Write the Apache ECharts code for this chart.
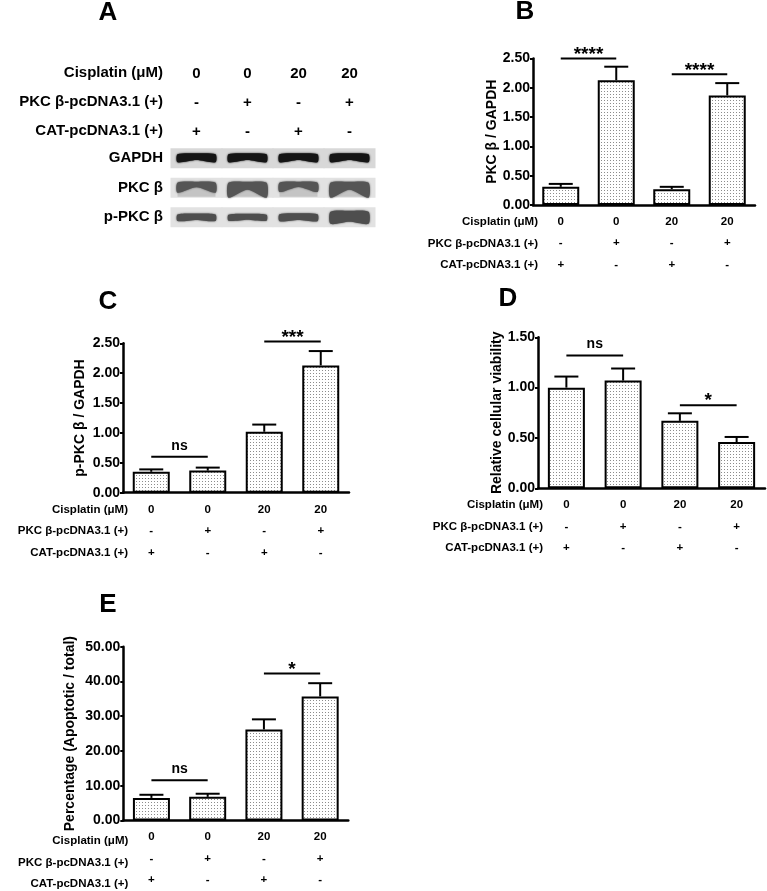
<!DOCTYPE html>
<html>
<head>
<meta charset="utf-8">
<script src="https://cdn.jsdelivr.net/npm/echarts@6/dist/echarts.min.js"></script>
<style>
  html, body { margin: 0; background: #fff; }
  #chart { width: 767px; height: 891px; }
</style>
</head>
<body>
<div id="chart"></div>
<script>
// conditions shared by every panel
const lanes = ['1', '2', '3', '4'];
const cisplatin = ['0', '0', '20', '20'];
const pkcVector = ['-', '+', '-', '+'];
const catVector = ['+', '-', '+', '-'];
const rowNames = ['Cisplatin (μM)', 'PKC β-pcDNA3.1 (+)', 'CAT-pcDNA3.1 (+)'];

// A: western blot, relative band density per lane
const blotRows = ['GAPDH', 'PKC β', 'p-PKC β'];
const gapdhBand = [1.0, 1.0, 1.0, 1.0];
const pkcBand = [0.5, 1.0, 0.45, 1.0];
const pPkcBand = [0.45, 0.4, 0.5, 1.0];

// B: PKC β / GAPDH
const pkcMean = [0.31, 2.13, 0.27, 1.87];
const pkcSem = [0.05, 0.23, 0.04, 0.21];
const pkcTicks = [0, 2.5, 0.5];
const pkcSig = [[0, 1, 2.5, '****'], [2, 3, 2.23, '****']];

// C: p-PKC β / GAPDH
const pPkcMean = [0.35, 0.37, 1.02, 2.13];
const pPkcSem = [0.04, 0.05, 0.12, 0.24];
const pPkcTicks = [0, 2.5, 0.5];
const pPkcSig = [[0, 1, 0.6, 'ns'], [2, 3, 2.53, '***']];

// D: relative cellular viability
const viabMean = [1.0, 1.07, 0.67, 0.46];
const viabSem = [0.11, 0.12, 0.075, 0.05];
const viabTicks = [0, 1.5, 0.5];
const viabSig = [[0, 1, 1.32, 'ns'], [2, 3, 0.825, '*']];

// E: apoptosis percentage
const apopMean = [6.5, 6.8, 26.2, 35.7];
const apopSem = [0.9, 0.9, 2.9, 3.8];
const apopTicks = [0, 50, 10];
const apopSig = [[0, 1, 11.6, 'ns'], [2, 3, 42.3, '*']];

const FONT = '"Liberation Sans", Arial, sans-serif';

// stippled fill used by GraphPad style bars
const dots = document.createElement('canvas');
dots.width = 3;
dots.height = 3;
const dctx = dots.getContext('2d');
dctx.fillStyle = '#ffffff';
dctx.fillRect(0, 0, 3, 3);
dctx.fillStyle = '#8c8c8c';
dctx.fillRect(1, 1, 1, 1);

const panels = [
  { name: 'PKC β / GAPDH', mean: pkcMean, sem: pkcSem, ticks: pkcTicks, sig: pkcSig,
    grid: { left: 533, top: 58.5, width: 222, height: 146.5 }, nameGap: 34 },
  { name: 'p-PKC β / GAPDH', mean: pPkcMean, sem: pPkcSem, ticks: pPkcTicks, sig: pPkcSig,
    grid: { left: 123, top: 343.3, width: 226, height: 149.4 }, nameGap: 36 },
  { name: 'Relative cellular viability', mean: viabMean, sem: viabSem, ticks: viabTicks, sig: viabSig,
    grid: { left: 538, top: 337.3, width: 227, height: 151 }, nameGap: 32 },
  { name: 'Percentage (Apoptotic / total)', mean: apopMean, sem: apopSem, ticks: apopTicks, sig: apopSig,
    grid: { left: 123.3, top: 646.7, width: 225, height: 177.3 }, nameGap: 46 },
];

const renderError = (params, api) => {
  const base = api.coord([api.value(0), api.value(1)]);
  const top = api.coord([api.value(0), api.value(2)]);
  const style = { stroke: '#000', lineWidth: 2 };
  return {
    type: 'group',
    children: [
      { type: 'line', shape: { x1: base[0], y1: base[1], x2: top[0], y2: top[1] }, style },
      { type: 'line', shape: { x1: top[0] - 12, y1: top[1], x2: top[0] + 12, y2: top[1] }, style },
    ],
  };
};

const makeSigRenderer = (sig) => (params, api) => {
  const a = api.coord([api.value(0), api.value(2)]);
  const b = api.coord([api.value(1), api.value(2)]);
  const label = sig[params.dataIndex][3];
  const isStar = label.indexOf('*') === 0;
  return {
    type: 'group',
    children: [
      { type: 'line', shape: { x1: a[0], y1: a[1], x2: b[0], y2: b[1] },
        style: { stroke: '#000', lineWidth: 2 } },
      { type: 'text',
        style: {
          text: label, x: (a[0] + b[0]) / 2, y: isStar ? a[1] - 4 : a[1] - 11,
          align: 'center', verticalAlign: 'middle', fill: '#000',
          font: (isStar ? 'bold 19px ' : 'bold 14px ') + FONT,
        } },
    ],
  };
};

const renderBand = (params, api) => {
  const lane = api.value(0);
  const row = api.value(1);
  const dens = api.value(2);
  const c = api.coord([lane, row]);
  const w = api.size([1, 1])[0];
  const stripH = 20;
  const bw = 38;
  const children = [{
    type: 'rect',
    shape: { x: c[0] - w / 2 - 0.5, y: c[1] - stripH / 2, width: w + 1, height: stripH },
    style: { fill: row === 0 ? '#d8d8d8' : '#e2e2e2' },
  }];
  let top, th, mid, fill;
  if (row === 0) {
    th = 9 * dens; top = c[1] - 5; mid = 0.75; fill = '#151515';
  } else if (row === 1) {
    th = Math.min(4 + 14 * dens, 16); top = c[1] - 6; mid = 0.5; fill = '#555555';
    children.push({
      type: 'rect',
      shape: { x: c[0] - bw / 2, y: top, width: bw, height: stripH / 2 + 6 - 1 },
      style: { fill: '#c4c4c4' },
    });
  } else {
    th = 3 + 10 * dens; top = c[1] - th / 2; mid = 0.85; fill = '#4e4e4e';
  }
  children.push({
    type: 'polygon',
    shape: {
      smooth: 0.25,
      points: [
        [c[0] - bw / 2, top + 1],
        [c[0], top],
        [c[0] + bw / 2, top + 1],
        [c[0] + bw / 2, top + th],
        [c[0], top + th * mid],
        [c[0] - bw / 2, top + th],
      ],
    },
    style: { fill, shadowBlur: 2, shadowColor: fill },
  });
  return { type: 'group', children };
};

const blotData = [];
[gapdhBand, pkcBand, pPkcBand].forEach((row, r) => {
  row.forEach((d, i) => blotData.push([i, r, d]));
});

const grids = [{ left: 171, top: 143.5, width: 204, height: 88.5 }];
const xAxes = [{
  type: 'category', gridIndex: 0, data: lanes, position: 'top',
  axisLine: { show: false }, axisTick: { show: false },
  axisLabel: {
    margin: -3, color: '#000', fontWeight: 'bold', fontSize: 15, fontFamily: FONT, lineHeight: 29,
    formatter: (v, i) => cisplatin[i] + '\n' + pkcVector[i] + '\n' + catVector[i],
  },
}];
const yAxes = [{
  type: 'category', gridIndex: 0, data: blotRows, inverse: true,
  axisLine: { show: false }, axisTick: { show: false },
  axisLabel: { margin: 8, color: '#000', fontWeight: 'bold', fontSize: 15, fontFamily: FONT },
}];
const series = [{
  type: 'custom', xAxisIndex: 0, yAxisIndex: 0, renderItem: renderBand, data: blotData, clip: false,
}];

const graphic = [
  ['A', 108, 13], ['B', 525, 12], ['C', 108, 302], ['D', 508, 299], ['E', 108, 605],
].map(([t, x, y]) => ({
  type: 'text', x, y,
  style: { text: t, font: 'bold 26px ' + FONT, fill: '#000', align: 'center', verticalAlign: 'middle' },
}));

rowNames.forEach((t, k) => {
  graphic.push({
    type: 'text', x: 163, y: 73 + 29 * k,
    style: { text: t, font: 'bold 15px ' + FONT, fill: '#000', align: 'right', verticalAlign: 'middle' },
  });
});

panels.forEach((p, n) => {
  const gi = n + 1;
  grids.push(p.grid);
  xAxes.push({
    type: 'category', gridIndex: gi, data: lanes,
    axisLine: { lineStyle: { color: '#000', width: 2.5 } },
    axisTick: { alignWithLabel: true, length: 4, lineStyle: { color: '#000', width: 2 } },
    axisLabel: {
      margin: 6, color: '#000', fontWeight: 'bold', fontSize: 11.5, fontFamily: FONT, lineHeight: 21.5,
      formatter: (v, i) => cisplatin[i] + '\n' + pkcVector[i] + '\n' + catVector[i],
    },
  });
  yAxes.push({
    type: 'value', gridIndex: gi, min: p.ticks[0], max: p.ticks[1], interval: p.ticks[2],
    name: p.name, nameLocation: 'middle', nameRotate: 90, nameGap: p.nameGap,
    nameTextStyle: { color: '#000', fontWeight: 'bold', fontSize: 14, fontFamily: FONT },
    axisLine: { show: true, lineStyle: { color: '#000', width: 2.5 } },
    axisTick: { show: true, length: 3, lineStyle: { color: '#000', width: 2 } },
    splitLine: { show: false },
    axisLabel: {
      margin: 3, color: '#000', fontWeight: 'bold', fontSize: 14, fontFamily: FONT,
      formatter: (v) => v.toFixed(2),
    },
  });
  series.push({
    type: 'bar', xAxisIndex: gi, yAxisIndex: gi, data: p.mean, barWidth: 37,
    itemStyle: { color: { image: dots, repeat: 'repeat' }, borderColor: '#000', borderWidth: 2 },
  });
  series.push({
    type: 'custom', xAxisIndex: gi, yAxisIndex: gi, renderItem: renderError, clip: false, z: 3,
    data: p.mean.map((m, i) => [i, m, m + p.sem[i]]),
  });
  series.push({
    type: 'custom', xAxisIndex: gi, yAxisIndex: gi, renderItem: makeSigRenderer(p.sig), clip: false, z: 3,
    data: p.sig.map((s) => [s[0], s[1], s[2]]),
  });
  rowNames.forEach((t, k) => {
    graphic.push({
      type: 'text', x: p.grid.left + 5, y: p.grid.top + p.grid.height + 17 + 21.5 * k,
      style: { text: t, font: 'bold 11.5px ' + FONT, fill: '#000', align: 'right', verticalAlign: 'middle' },
    });
  });
});

const chart = echarts.init(document.getElementById('chart'));
chart.setOption({
  backgroundColor: '#fff',
  animation: false,
  grid: grids,
  xAxis: xAxes,
  yAxis: yAxes,
  series,
  graphic,
});
</script>
</body>
</html>
